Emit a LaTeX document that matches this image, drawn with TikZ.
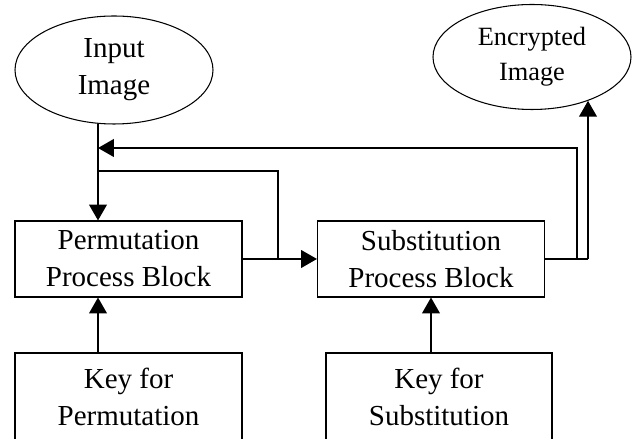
\documentclass[tikz,border=0pt]{standalone}
\usepackage{fontspec}
\setmainfont{Liberation Serif}
\usetikzlibrary{shapes.geometric,arrows.meta,positioning,calc}

\begin{document}
\begin{tikzpicture}
\useasboundingbox (0,0) rectangle (12.66,8.78);

\tikzstyle{imgell} = [draw, ellipse, line width=0.6pt, inner sep=0pt, minimum width=3.96cm, minimum height=2.16cm, align=center, font=\fontsize{16.5}{21}\selectfont]
\tikzstyle{procbox} = [draw, rectangle, line width=0.6pt, minimum width=4.54cm, minimum height=1.52cm, align=center, font=\fontsize{16.5}{21}\selectfont]
\tikzstyle{flow} = [line width=1.1pt]
\tikzstyle{flowarr} = [flow, -{Triangle[length=9pt,width=10pt]}]

\node (in) [imgell] at (2.28,7.38) {Input\\Image};
\node (enc) [imgell, minimum height=2.1cm, font=\fontsize{15}{20}\selectfont] at (10.64,7.64) {Encrypted\\Image};
\node (perm) [procbox] at (2.57,3.6) {Permutation\\Process Block};
\node (subst) [procbox] at (8.62,3.6) {Substitution\\Process Block};
\node (kperm) [procbox, minimum height=1.76cm] at (2.57,0.84) {Key for\\Permutation};
\node (ksubst) [procbox, minimum height=1.76cm, minimum width=4.52cm] at (8.78,0.84) {Key for\\Substitution};

% junctions of the feedback loop
\coordinate (join) at (1.96,5.82);
\coordinate (split) at (1.96,5.36);
\coordinate (mid) at (5.56,3.6);
\coordinate (fb) at (11.54,3.6);
\coordinate (out) at (11.76,3.6);

\draw [flow] (join |- in.-107) -- (join);
\draw [flowarr] (join) -- (perm.north -| join);
\draw [flow] (split) -| (mid);
\draw [flowarr] (perm.east) -- (subst.west);
\draw [flow] (subst.east) -- (out);
\draw [flowarr] (out) -- (out |- enc.-38);
\draw [flowarr] (fb) |- (join);

\draw [flowarr] (kperm.north -| join) -- (perm.south -| join);
\draw [flowarr] (ksubst.north -| subst.south) -- (subst.south);

\end{tikzpicture}
\end{document}
